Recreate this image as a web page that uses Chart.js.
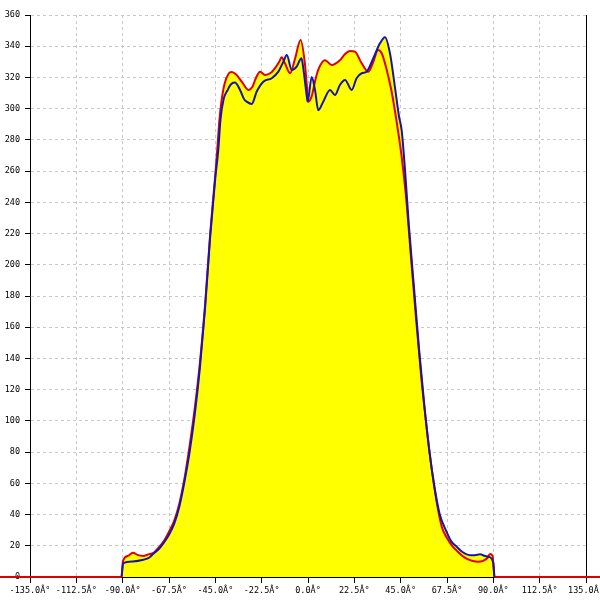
<!DOCTYPE html>
<html>
<head>
<meta charset="utf-8">
<script src="https://cdn.jsdelivr.net/npm/chart.js@4"></script>
<style>
  body { margin: 0; background: #fff; }
  #chart { display: block; }
</style>
</head>
<body>
<canvas id="chart" width="600" height="600"></canvas>
<script>
// angle ticks, -135..135 step 22.5 (labels keep the original broken degree sign)
const xTicks = [-135, -112.5, -90, -67.5, -45, -22.5, 0, 22.5, 45, 67.5, 90, 112.5, 135];
const yTicks = [0, 20, 40, 60, 80, 100, 120, 140, 160, 180, 200, 220, 240, 260, 280, 300, 320, 340, 360];

// blue series
const blueDeg = [-90.5, -89.8, -85, -80, -77, -75, -72, -70, -67.5, -65, -62.5, -60, -57.5, -55, -52.5, -50, -47.5, -45, -43.6, -42.5, -41, -39, -37.5, -35.5, -33, -31, -29.8, -27.3, -24.9, -21.7, -17.6, -14.4, -12, -10.3, -7.9, -5.5, -3.2, -2.3, -0.6, -0.2, 1.8, 3.4, 5, 7.4, 10.7, 13.1, 15.5, 18, 21.2, 23.6, 26.1, 28.5, 31.7, 35, 37.4, 39.8, 42.2, 44.2, 45.5, 47.1, 49, 51.5, 54, 56.5, 59, 61.5, 64, 67.3, 69.5, 72.2, 75, 78.7, 81, 83.5, 86, 87.6, 90, 90.5];
const blueVal = [0, 8.8, 10, 11, 12.5, 15, 18.6, 22, 27, 34, 45, 61, 80, 104, 134, 172, 218, 256, 273, 293, 306, 312, 315.5, 316.7, 312, 306, 304.5, 303, 311, 317.3, 319.5, 323.7, 330, 334.4, 324.8, 327, 332.3, 326, 308, 304.5, 320.3, 312, 299, 304.5, 312, 308.8, 315.2, 318.4, 312, 319.5, 322.7, 323.7, 332.3, 342, 345.8, 335.5, 314, 295, 286, 261, 225, 185, 145, 110, 80, 57, 40, 29, 23, 19.4, 16, 14, 14, 14.5, 13.5, 13, 9, 0];

// red series (runs past both ends of the axis along zero)
const redDeg = [-152, -90.6, -89.8, -87.5, -85, -82.5, -80, -77.5, -75, -72.5, -70, -67.5, -65, -62.5, -60, -57.5, -55, -52.5, -50, -47.5, -45, -44, -43, -42, -40.5, -38.5, -37, -35, -32, -29, -27, -25.5, -23.3, -20.9, -18, -16, -14, -12.8, -11.2, -8.7, -6.3, -3.6, -1.6, -0.5, 0.2, 1.8, 3.5, 5, 8.3, 11.5, 15.5, 18, 20.4, 22.8, 26.1, 29.3, 31.7, 34, 35.8, 38.2, 40.6, 43, 45.5, 47.5, 50, 52.5, 55, 57.5, 60, 62.5, 65, 67.5, 70, 72.5, 75, 77.5, 80, 82.5, 85, 87, 88.4, 89.6, 90.6, 152];
const redVal = [0, 0, 10.5, 13.5, 15.6, 14, 13.5, 14.5, 15.5, 19, 23, 29, 36, 47, 63, 84, 108, 137, 174, 220, 258, 275, 293, 305, 316, 322.5, 323.5, 322, 317, 312, 314, 319, 323.7, 321.6, 323, 326, 330, 333, 329, 322.7, 332, 344, 330, 314, 304.5, 308, 318, 325, 331, 328, 331, 335, 337, 336.5, 329, 323.7, 330, 337.6, 335.5, 325, 311, 292, 269, 245, 205, 165, 128, 97, 70, 48, 32, 25, 20, 16.5, 13.5, 11.5, 10.3, 9.8, 10.3, 12, 14.7, 13.5, 0, 0];

function toPoints(xs, ys) {
  return xs.map((x, i) => ({ x: x, y: ys[i] }));
}

Chart.defaults.font.family = "'DejaVu Sans Mono', monospace";
Chart.defaults.font.size = 8.5;
Chart.defaults.color = "#000";

const gridStyle = {
  color: "#c8c8c8",
  tickColor: "#000",
  tickBorderDash: [],
};
const borderStyle = { color: "#000", width: 1, dash: [3, 3] };

new Chart(document.getElementById("chart"), {
  type: "line",
  data: {
    datasets: [
      {
        data: toPoints(blueDeg, blueVal),
        borderColor: "#1414b4",
        backgroundColor: "#ffff00",
        borderWidth: 2,
        fill: "origin",
        pointRadius: 0,
        cubicInterpolationMode: "monotone",
      },
      {
        data: toPoints(redDeg, redVal),
        borderColor: "#e00000",
        backgroundColor: "#ffff00",
        borderWidth: 2,
        fill: "origin",
        pointRadius: 0,
        cubicInterpolationMode: "monotone",
        clip: false,
      },
    ],
  },
  options: {
    responsive: false,
    animation: false,
    layout: { padding: { top: 15, right: 0, left: 0, bottom: 0 } },
    plugins: {
      legend: { display: false },
      tooltip: { enabled: false },
      filler: { drawTime: "beforeDatasetsDraw" },
    },
    scales: {
      x: {
        type: "linear",
        min: -135,
        max: 135,
        afterBuildTicks: (scale) => {
          scale.ticks = xTicks.map((v) => ({ value: v }));
        },
        afterFit: (scale) => {
          scale.height = 23;
          scale.paddingLeft = 0;
          scale.paddingRight = 0;
        },
        ticks: {
          maxRotation: 0,
          autoSkip: false,
          padding: 3,
          callback: (v) => v.toFixed(1) + "Â°",
        },
        grid: Object.assign({ tickLength: 6 }, gridStyle),
        border: borderStyle,
      },
      y: {
        min: 0,
        max: 360,
        afterBuildTicks: (scale) => {
          scale.ticks = yTicks.map((v) => ({ value: v }));
        },
        afterFit: (scale) => {
          scale.width = 30;
        },
        ticks: { padding: 5 },
        grid: Object.assign({ tickLength: 5 }, gridStyle),
        border: borderStyle,
      },
      y2: {
        position: "right",
        min: 0,
        max: 360,
        ticks: { display: false },
        grid: { display: false },
        border: { color: "#000", width: 1 },
        afterFit: (scale) => {
          scale.width = 14;
        },
      },
    },
  },
});
</script>
</body>
</html>
